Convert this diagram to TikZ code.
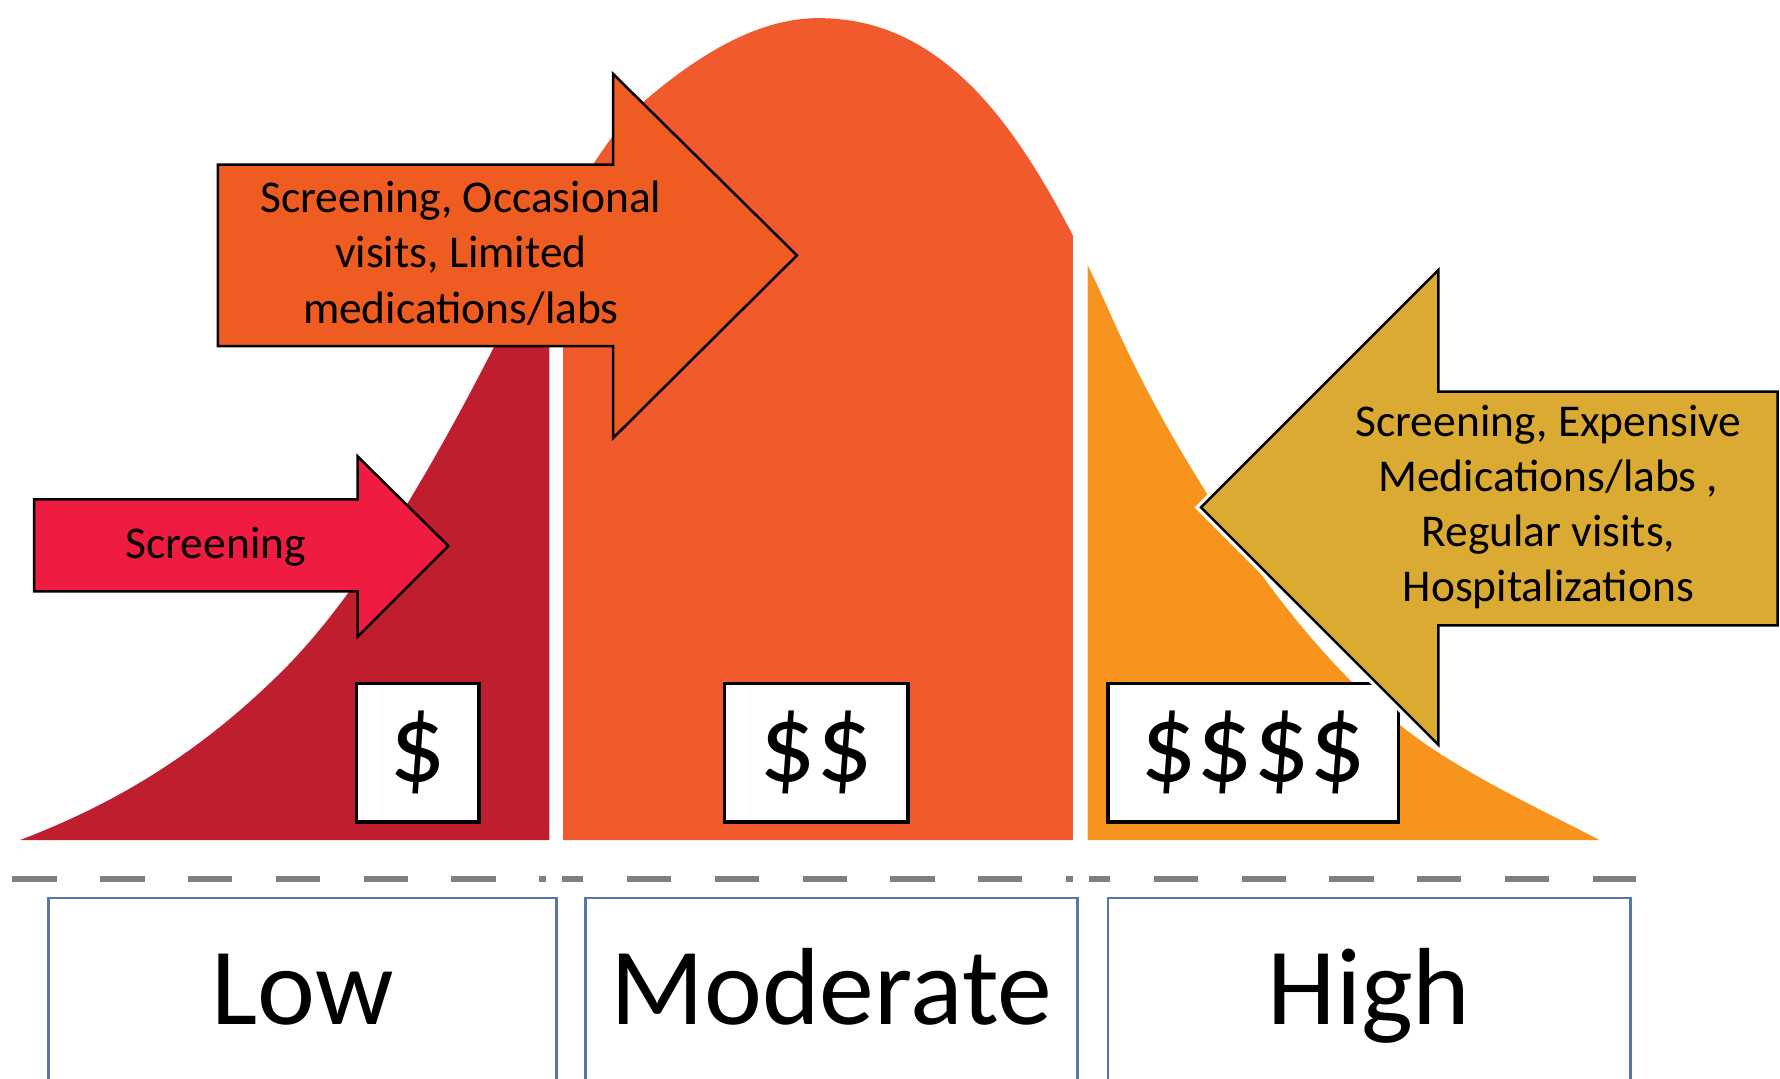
\documentclass[tikz,border=0pt]{standalone}
\usepackage{fontspec}
\setmainfont{Carlito}
\definecolor{lowred}{HTML}{BE1E2D}
\definecolor{modorange}{HTML}{F15A2C}
\definecolor{modarrow}{HTML}{EE5C22}
\definecolor{highorange}{HTML}{F7941D}
\definecolor{goldarrow}{HTML}{DAAA32}
\definecolor{screenred}{HTML}{EF1B40}
\definecolor{boxblue}{HTML}{5876A6}
\definecolor{dashgray}{HTML}{7F7F7F}
\begin{document}
\begin{tikzpicture}[x=0.1mm,y=-0.1mm,
  arrowtxt/.style={font=\fontsize{11.4pt}{13.8pt}\selectfont, align=center, inner sep=0pt},
  costbox/.style={draw=black, line width=0.3mm, fill=white, inner sep=0pt,
    font=\fontsize{28pt}{30pt}\selectfont, minimum height=12.2mm},
  levelbox/.style={draw=boxblue, line width=0.25mm, fill=white, inner sep=0pt,
    font=\fontsize{27.5pt}{30pt}\selectfont, text height=17.7pt, text depth=0pt,
    minimum height=16.1mm},
  shapeedge/.style={draw=black, line width=0.22mm, line join=miter},
  sepdash/.style={draw=dashgray, line width=0.55mm, dash pattern=on 3.9mm off 3.833mm}]
\useasboundingbox (0,0) rectangle (1568,950);
\fill[white] (0,0) rectangle (1568,950);
\clip (0,0) rectangle (1568,950);

% bell curve outline (saved once, filled in three clipped parts)
\path[save path=\bellpath] (17.6,740)
  .. controls (94.93,710.61) and (172.27,667.53) .. (249.6,590.2)
  .. controls (311.27,528.53) and (372.93,427.06) .. (434.6,306.8)
  .. controls (479.5,219.24) and (524.4,125.77) .. (569.3,87.6)
  .. controls (619.87,44.62) and (670.43,16) .. (721,16)
  .. controls (767.83,16) and (814.67,32.63) .. (861.5,81.8)
  .. controls (900.27,122.51) and (939.03,188.77) .. (977.8,276)
  .. controls (1006.2,339.9) and (1034.6,389.16) .. (1063,434.6)
  .. controls (1130,541.8) and (1197,617.45) .. (1264,661)
  .. controls (1312.33,692.42) and (1360.67,714.87) .. (1409,740) -- cycle;
\begin{scope}
  \clip (0,0) rectangle (484,745);
  \fill[lowred, use path=\bellpath];
\end{scope}
\begin{scope}
  \clip (496,0) rectangle (945,745);
  \fill[modorange, use path=\bellpath];
\end{scope}
\begin{scope}
  \clip (958,0) rectangle (1568,745);
  \fill[highorange, use path=\bellpath];
\end{scope}

% screening arrow
\draw[shapeedge, fill=screenred] (30,440) -- (315,440) -- (315,402) -- (395,481) -- (315,561) -- (315,521) -- (30,521) -- cycle;
\node[arrowtxt] (screentxt) at (190,482) {Screening};

% moderate arrow
\draw[shapeedge, fill=modarrow] (192,145) -- (540,145) -- (540,65) -- (702,225) -- (540,386) -- (540,305) -- (192,305) -- cycle;
\node[arrowtxt] (modtxt) at (406,223) {Screening, Occasional\\visits, Limited\\medications/labs};

% cost boxes
\node[costbox, minimum width=10.8mm] (cost1) at (368,663) {\$};
\node[costbox, minimum width=16.2mm] (cost2) at (719,663) {\$\$};
\node[costbox, minimum width=25.6mm] (cost4) at (1104,663) {\$\$\$\$};

% high arrow
\draw[white, line width=0.8mm, line join=miter] (1566,345) -- (1267,345) -- (1267,238) -- (1058,447) -- (1267,656) -- (1267,551) -- (1566,551) -- cycle;
\draw[shapeedge, fill=goldarrow] (1566,345) -- (1267,345) -- (1267,238) -- (1058,447) -- (1267,656) -- (1267,551) -- (1566,551) -- cycle;
\node[arrowtxt] (hightxt) at (1364,447) {Screening, Expensive\\Medications/labs ,\\Regular visits,\\Hospitalizations};

% dashed separator
\coordinate (d1a) at (11,774);  \coordinate (d1b) at (481,774);
\coordinate (d2a) at (495,774); \coordinate (d2b) at (945,774);
\coordinate (d3a) at (959,774); \coordinate (d3b) at (1441,774);
\draw[sepdash] (d1a) -- (d1b);
\draw[sepdash, dash phase=2mm] (d2a) -- (d2b);
\draw[sepdash, dash phase=2mm] (d3a) -- (d3b);

% level boxes
\node[levelbox, minimum width=44.7mm] (low) at (266.5,871.5) {Low};
\node[levelbox, minimum width=43.3mm] (moderate) at (732.5,871.5) {Moderate};
\node[levelbox, minimum width=46mm] (high) at (1206,871.5) {High};
\end{tikzpicture}
\end{document}
